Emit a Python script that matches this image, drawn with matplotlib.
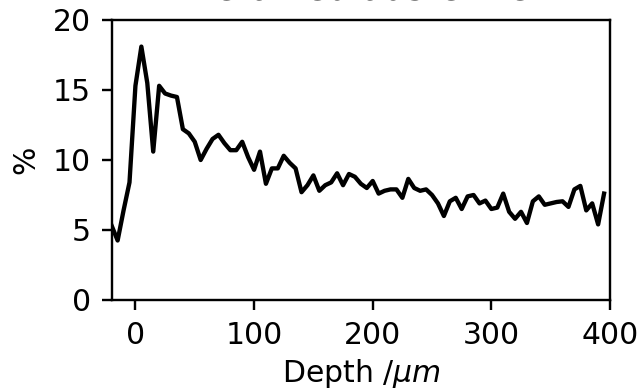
import matplotlib
matplotlib.use("Agg")
import matplotlib.pyplot as plt
import numpy as np

# Depth profile (um) and retained austenite fraction (%)
depth = np.arange(-20, 400, 5)
austenite = [
    5.3, 4.25, 6.4, 8.4, 15.3, 18.1, 15.5, 10.6, 15.3, 14.75,
    14.6, 14.5, 12.2, 11.9, 11.3, 10.0, 10.8, 11.5, 11.8, 11.2,
    10.7, 10.7, 11.3, 10.2, 9.3, 10.6, 8.3, 9.4, 9.4, 10.3,
    9.8, 9.4, 7.7, 8.2, 8.9, 7.8, 8.2, 8.4, 9.05, 8.2,
    9.0, 8.8, 8.3, 8.0, 8.5, 7.6, 7.8, 7.9, 7.9, 7.3,
    8.65, 8.0, 7.8, 7.9, 7.5, 6.9, 6.0, 7.05, 7.3, 6.5,
    7.4, 7.5, 6.9, 7.1, 6.5, 6.6, 7.6, 6.3, 5.8, 6.3,
    5.5, 7.05, 7.4, 6.8, 6.9, 7.0, 7.05, 6.65, 7.9, 8.15,
    6.4, 6.9, 5.4, 7.6,
]

k = 2.15  # everything drawn at roughly twice the default size
plt.rcParams.update({
    "font.size": 10 * k,
    "axes.titlesize": 12 * k,
    "axes.linewidth": 0.8 * k,
    "axes.titlepad": 7 * k,
    "xtick.major.size": 3.5 * k,
    "ytick.major.size": 3.5 * k,
    "xtick.major.width": 0.8 * k,
    "ytick.major.width": 0.8 * k,
    "xtick.major.pad": 3.5 * k,
    "ytick.major.pad": 3.5 * k,
})

fig = plt.figure(figsize=(6.39, 3.92), dpi=100)
ax = fig.add_axes([0.1748, 0.2347, 0.9546 - 0.1748, 0.949 - 0.2347])

ax.plot(depth, austenite, color="black", linewidth=1.45 * k)

ax.set_xlim(-20, 400)
ax.set_ylim(0, 20)
ax.set_xticks([0, 100, 200, 300, 400])
ax.set_yticks([0, 5, 10, 15, 20])

ax.set_title("Retained austenite")
ax.set_xlabel(r"Depth /$\mu m$", labelpad=2.5 * k)
ax.set_ylabel("%", labelpad=4 * k)

fig.savefig("out.png", dpi=100)
